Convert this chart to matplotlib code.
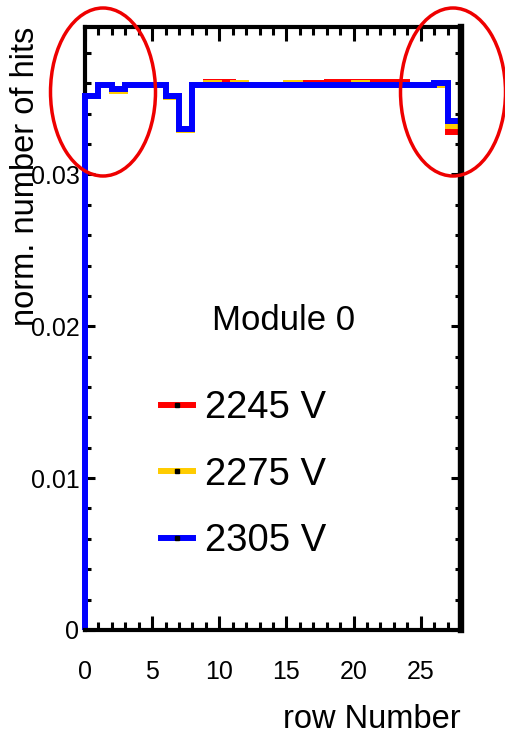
import matplotlib.pyplot as plt
from matplotlib.lines import Line2D
from matplotlib.patches import Ellipse, Rectangle
from matplotlib.ticker import MultipleLocator

plt.rcParams['font.family'] = ['Liberation Sans', 'DejaVu Sans']

# bin edges (row number) and normalised hits per row for each HV setting
edges = list(range(0, 29))
labels = ["2245 V", "2275 V", "2305 V"]
colors = ["#ff0000", "#ffcc00", "#0000ff"]

hits_2245 = [0.0352, 0.0359, 0.0356, 0.0359, 0.0359, 0.0359, 0.0352, 0.0330,
             0.0359, 0.0361, 0.0361, 0.0359, 0.0359, 0.0359, 0.0359, 0.0359,
             0.0360, 0.0360, 0.0361, 0.0361, 0.0361, 0.0361, 0.0361, 0.0361,
             0.0359, 0.0359, 0.0359, 0.0328]
hits_2275 = [0.0352, 0.0359, 0.0355, 0.0359, 0.0359, 0.0359, 0.0351, 0.0329,
             0.0359, 0.0360, 0.0359, 0.0360, 0.0359, 0.0359, 0.0359, 0.0360,
             0.0359, 0.0359, 0.0359, 0.0359, 0.0360, 0.0359, 0.0359, 0.0359,
             0.0359, 0.0359, 0.0359, 0.0332]
hits_2305 = [0.0352, 0.0359, 0.0356, 0.0359, 0.0359, 0.0359, 0.0352, 0.0330,
             0.0359, 0.0359, 0.0359, 0.0359, 0.0359, 0.0359, 0.0359, 0.0359,
             0.0359, 0.0359, 0.0359, 0.0359, 0.0359, 0.0359, 0.0359, 0.0359,
             0.0359, 0.0359, 0.0360, 0.0335]
series = [hits_2245, hits_2275, hits_2305]

fig = plt.figure(figsize=(5.06, 7.35), dpi=100)
ax = fig.add_axes([0.168, 0.143, 0.743, 0.820])

# clip only on the right so the rising edge at row 0 stays fully visible
clip = Rectangle((-0.05, -0.02), 1.05, 1.04, transform=ax.transAxes,
                 visible=False)
ax.add_patch(clip)
for vals, c in zip(series, colors):
    st = ax.stairs(vals, edges, baseline=0, color=c, linewidth=4.3, zorder=3)
    st.set_clip_path(clip)

ax.set_xlim(0, 28)
ax.set_ylim(0, 0.0397)
ax.xaxis.set_major_locator(MultipleLocator(5))
ax.xaxis.set_minor_locator(MultipleLocator(1))
ax.set_yticks([0, 0.01, 0.02, 0.03])
ax.set_yticklabels(["0", "0.01", "0.02", "0.03"])
ax.yaxis.set_minor_locator(MultipleLocator(0.002))

for name, s in ax.spines.items():
    s.set_linewidth(3)
    s.set_zorder(4)
ax.spines['left'].set_zorder(2)
ax.spines['right'].set_linewidth(4.6)

ax.tick_params(which='both', direction='in', top=True, right=True, width=2.2,
               labelsize=18, colors='black')
ax.tick_params(axis='x', which='major', length=10, pad=22)
ax.tick_params(axis='x', which='minor', length=6)
ax.tick_params(axis='y', which='major', length=7, pad=4)
ax.tick_params(axis='y', which='minor', length=4)

ax.set_xlabel("row Number", fontsize=23.5, loc='right')
ax.xaxis.set_label_coords(1.0, -0.123)
ax.set_ylabel("norm. number of hits", fontsize=23.5, loc='top')
ax.yaxis.set_label_coords(-0.118, 1.0)

ax.text(0.527, 0.514, "Module 0", transform=ax.transAxes, fontsize=25,
        ha='center', va='center')

handles = [Line2D([], [], color=c, linewidth=4.3, marker='s', markersize=2.5,
                  markerfacecolor='black', markeredgecolor='black') for c in colors]
ax.legend(handles, labels, frameon=False, fontsize=27.5, handlelength=0.85,
          handletextpad=0.3, labelspacing=0.8, borderpad=0, borderaxespad=0,
          loc='upper left', bbox_to_anchor=(0.202, 0.398))

# red highlight ellipses
W, H = 506, 735
for cx, cy in [(103, 92), (453, 92)]:
    e = Ellipse((cx / W, 1 - cy / H), 105 / W, 168 / H, transform=fig.transFigure,
                fill=False, edgecolor='#ee0000', linewidth=2.5, clip_on=False)
    fig.patches.append(e)

fig.savefig("out.png", dpi=100)
